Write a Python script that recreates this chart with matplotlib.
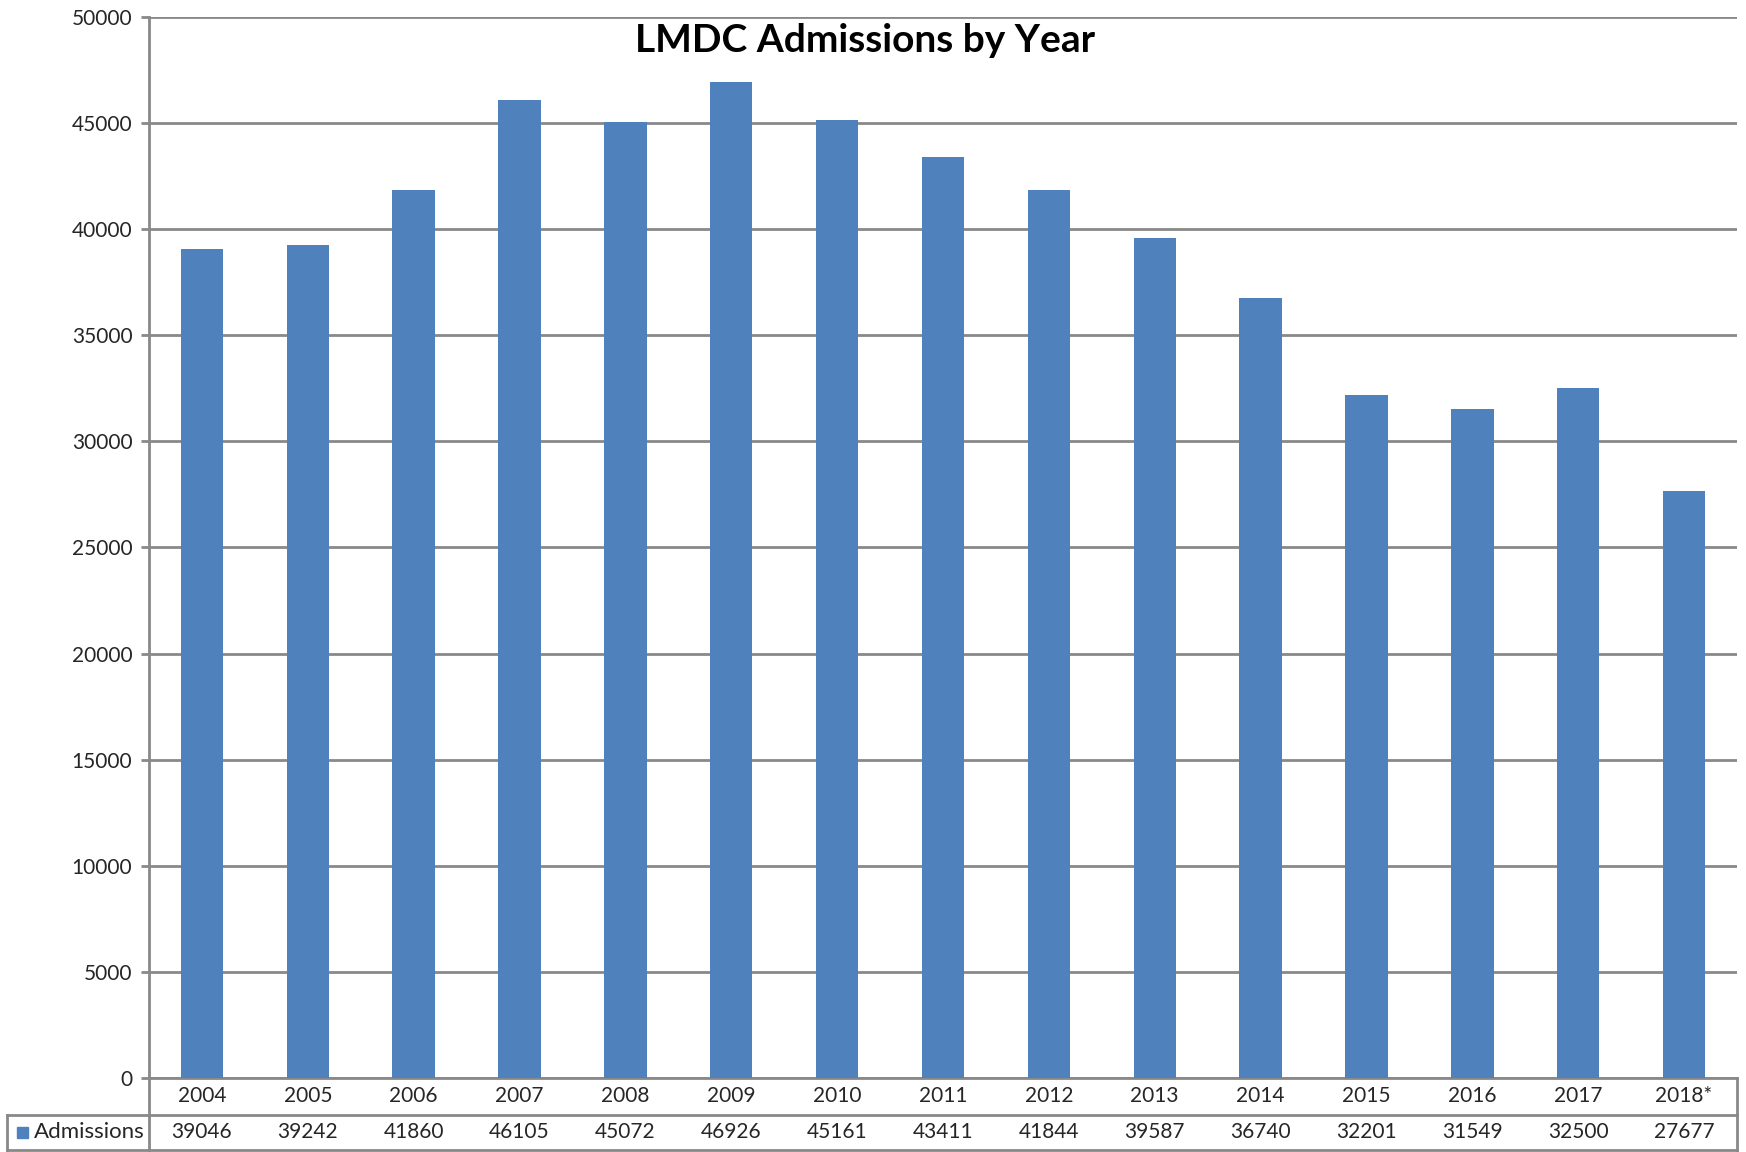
import matplotlib.pyplot as plt
from matplotlib.lines import Line2D
from matplotlib.patches import Rectangle
from matplotlib.transforms import blended_transform_factory

years = ['2004', '2005', '2006', '2007', '2008', '2009', '2010', '2011',
         '2012', '2013', '2014', '2015', '2016', '2017', '2018*']
admissions = [39046, 39242, 41860, 46105, 45072, 46926, 45161, 43411,
              41844, 39587, 36740, 32201, 31549, 32500, 27677]
yticks = list(range(0, 50001, 5000))

BLUE = '#4F81BD'
GRID = '#898989'
W, H = 1746, 1152

plt.rcParams['font.family'] = ['Lato', 'DejaVu Sans']

fig = plt.figure(figsize=(W / 100, H / 100), dpi=100)
left, right, top, bottom = 149, 1737, 17, 1078
ax = fig.add_axes([left / W, 1 - bottom / H, (right - left) / W, (bottom - top) / H])

x = list(range(len(years)))
ax.bar(x, admissions, width=0.4, color=BLUE, zorder=3)
ax.set_xlim(-0.5, len(years) - 0.5)
ax.set_ylim(0, 50000)
ax.set_yticks(yticks)
ax.set_yticklabels([str(v) for v in yticks], fontsize=15, color='#262626')
ax.set_xticks([])
ax.yaxis.grid(True, color=GRID, linewidth=2, zorder=0)
ax.tick_params(axis='y', length=6, width=2, color=GRID, pad=6)
for s in ['top', 'right']:
    ax.spines[s].set_visible(False)
ax.spines['left'].set_color(GRID)
ax.spines['left'].set_linewidth(2)
ax.spines['bottom'].set_color(GRID)
ax.spines['bottom'].set_linewidth(2)

fig.text(865 / W, 1 - 40 / H, 'LMDC Admissions by Year', ha='center', va='center',
         fontsize=28, fontweight='bold', color='black')

# data table under the chart
tr = blended_transform_factory(ax.transData, fig.transFigure)
row1_y = 1 - 1096 / H
row2_y = 1 - 1132 / H
for xi, yr, val in zip(x, years, admissions):
    ax.text(xi, row1_y, yr, transform=tr, ha='center', va='center',
            fontsize=15, color='#262626')
    ax.text(xi, row2_y, str(val), transform=tr, ha='center', va='center',
            fontsize=15, color='#262626')


def fline(x0, y0, x1, y1):
    fig.add_artist(Line2D([x0 / W, x1 / W], [1 - y0 / H, 1 - y1 / H],
                          color=GRID, linewidth=2))


fline(7, 1115, right, 1115)
fline(7, 1150, right, 1150)
fline(7, 1115, 7, 1150)
fline(right, 1078, right, 1150)
fline(left, 1078, left, 1150)

fig.add_artist(Rectangle((17 / W, 1 - 1138 / H), 11 / W, 11 / H, color=BLUE))
fig.text(34 / W, row2_y, 'Admissions', ha='left', va='center', fontsize=16, color='#262626')

fig.savefig('out.png', dpi=100)
